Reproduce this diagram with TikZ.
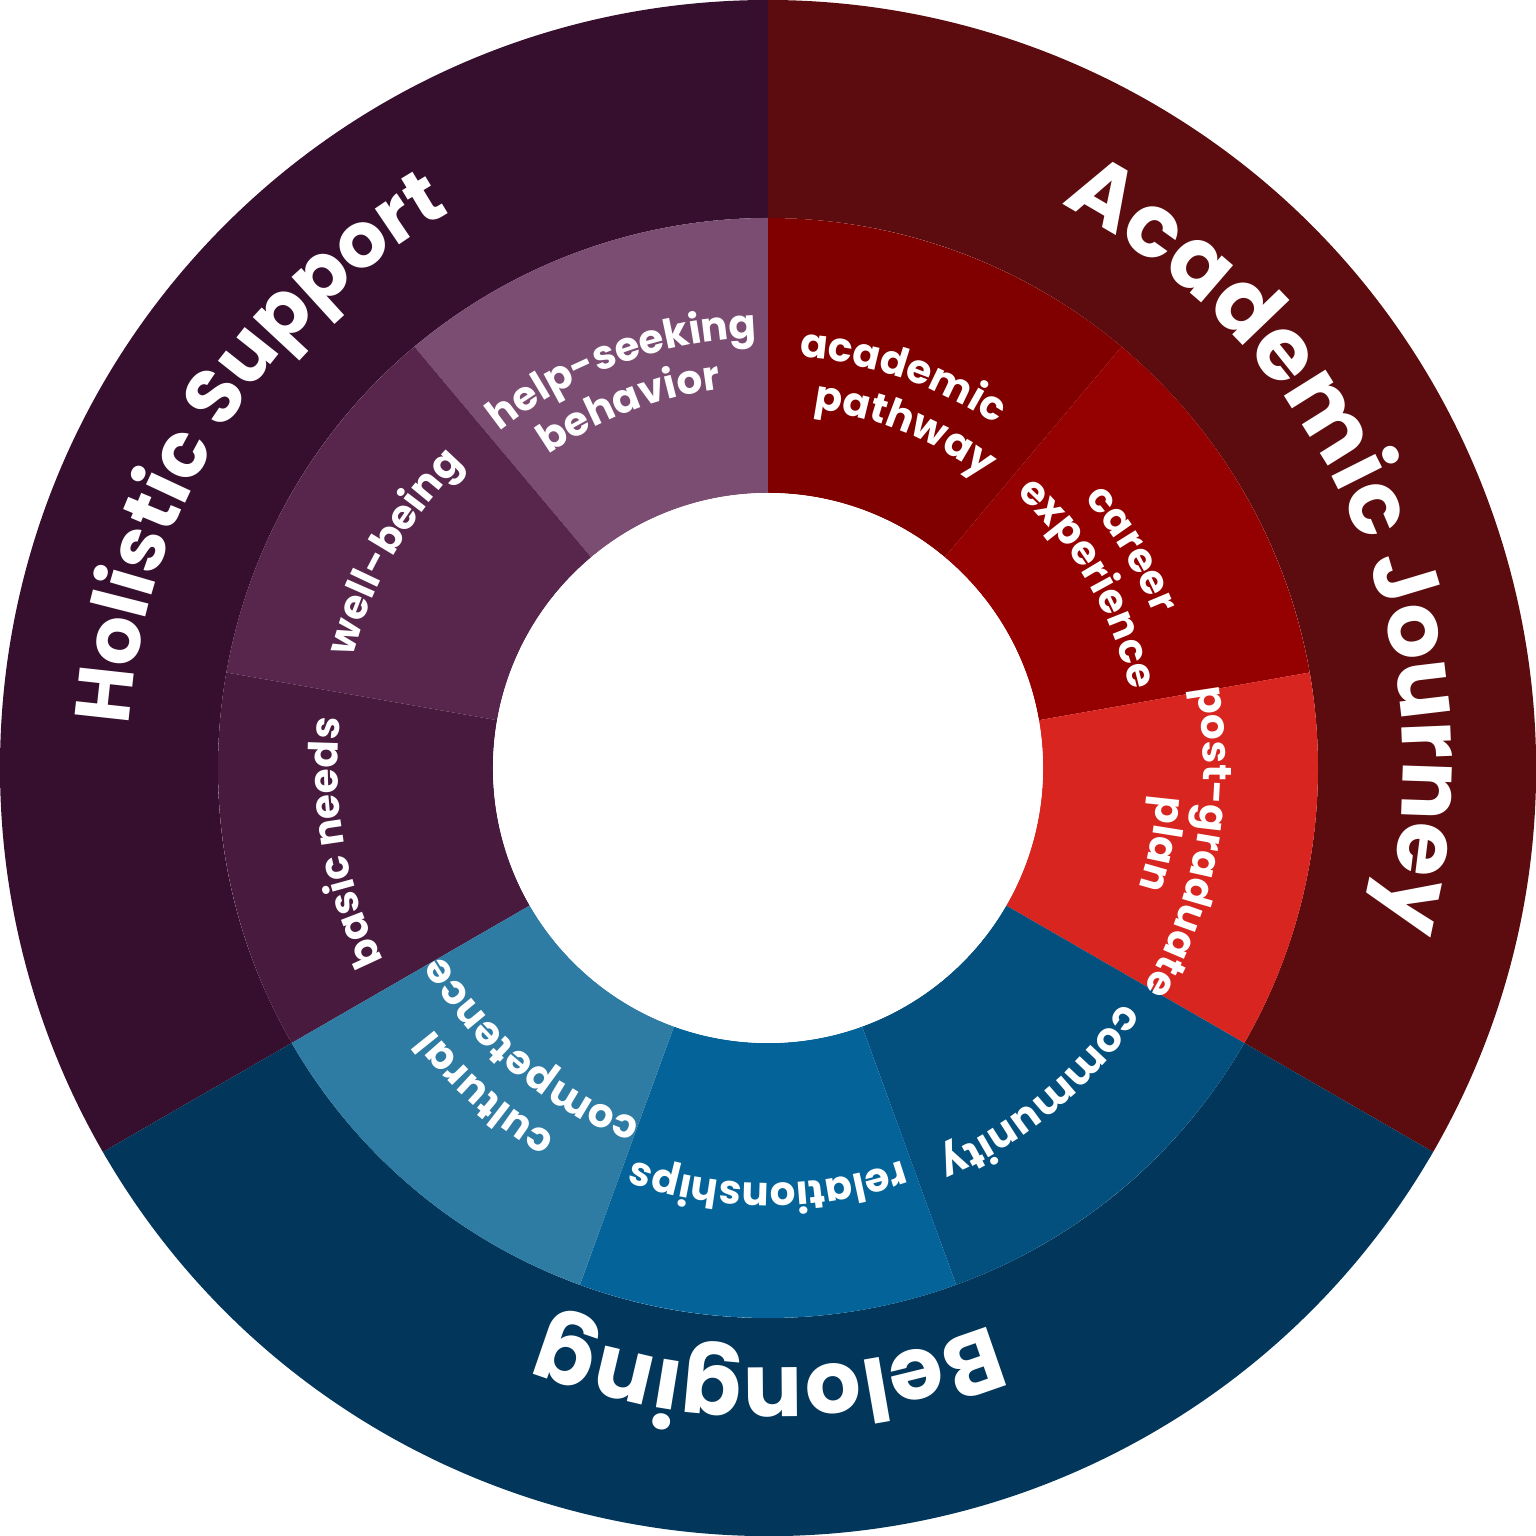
\documentclass[tikz,border=0pt]{standalone}
\usepackage{fontspec}
\setmainfont{Poppins}
\usetikzlibrary{decorations.text}
\definecolor{hsOut}{HTML}{360F2E}
\definecolor{hsA}{HTML}{7B4D72}
\definecolor{hsB}{HTML}{58264C}
\definecolor{hsC}{HTML}{481A3E}
\definecolor{ajOut}{HTML}{5C0C0E}
\definecolor{ajA}{HTML}{800000}
\definecolor{ajB}{HTML}{950000}
\definecolor{ajC}{HTML}{D9251F}
\definecolor{blOut}{HTML}{02365A}
\definecolor{blA}{HTML}{03507E}
\definecolor{blB}{HTML}{04649A}
\definecolor{blC}{HTML}{2E7BA4}
\newcommand\mysector[5]{\fill[#5] (#1:#3) arc[start angle=#1,end angle=#2,radius=#3] -- (#2:#4) arc[start angle=#2,end angle=#1,radius=#4] -- cycle;}
% center angle, radius, text, size
\newcommand\arctext[4]{\path[decorate,decoration={text along path,text align=center,text color=white,text={|\bfseries\fontsize{#4}{#4}\selectfont|#3}}] (#1+80:#2) arc[start angle=#1+80,end angle=#1-80,radius=#2];}
\begin{document}
\begin{tikzpicture}
\useasboundingbox (-7.68,-7.68) rectangle (7.68,7.68);
% outer ring
\mysector{90}{210}{7.68}{5.5}{hsOut}
\mysector{-30}{90}{7.68}{5.5}{ajOut}
\mysector{-150}{-30}{7.68}{5.5}{blOut}
% inner ring
\mysector{90}{130}{5.5}{2.75}{hsA}
\mysector{130}{170}{5.5}{2.75}{hsB}
\mysector{170}{210}{5.5}{2.75}{hsC}
\mysector{50}{90}{5.5}{2.75}{ajA}
\mysector{10}{50}{5.5}{2.75}{ajB}
\mysector{-30}{10}{5.5}{2.75}{ajC}
\mysector{-70}{-30}{5.5}{2.75}{blA}
\mysector{-110}{-70}{5.5}{2.75}{blB}
\mysector{-150}{-110}{5.5}{2.75}{blC}
\fill[white] (0,0) circle[radius=2.75];
% outer labels
\arctext{148}{6.4}{Holistic Support}{22}
\arctext{24}{6.35}{Academic Journey}{25}
\arctext{-90}{6.0}{Belonging}{25}
% inner labels
\arctext{110}{4.3}{help-seeking}{11.5}
\arctext{111}{3.82}{behavior}{11.5}
\arctext{71}{4.12}{academic}{11.5}
\arctext{68}{3.62}{pathway}{11.5}
\arctext{31}{4.15}{career}{11.5}
\arctext{30}{3.7}{experience}{11.5}
\arctext{-10}{4.35}{post-graduate}{11.5}
\arctext{-11}{3.9}{plan}{11.5}
\arctext{-50}{4.25}{community}{11.5}
\arctext{-90}{4.15}{relationships}{11.5}
\arctext{-131}{4.25}{cultural}{11.5}
\arctext{-130}{3.75}{competence}{11.5}
\arctext{150}{4.3}{well-being}{11.5}
\arctext{190}{4.3}{basic needs}{11.5}
\end{tikzpicture}
\end{document}
